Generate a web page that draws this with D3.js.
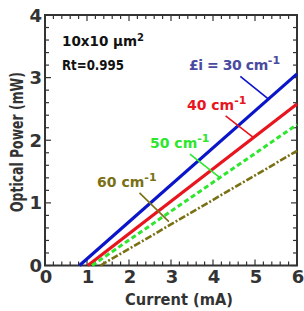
<!DOCTYPE html>
<html><head><meta charset="utf-8">
<script src="https://cdn.jsdelivr.net/npm/d3@7"></script>
<style>body{margin:0;background:#fff}svg{display:block}text{font-family:"DejaVu Sans",sans-serif;font-weight:bold}</style>
</head><body>
<svg id="c" width="304" height="311"></svg>
<script>
const xTicks = [0,1,2,3,4,5,6];
const yTicks = [0,1,2,3,4];
const seriesNames = ["30","40","50","60"];
const seriesColors = ["#0a14c8","#e8141e","#2ee62e","#7a7014"];
const labelColors = ["#4a4aa0","#e8141e","#2ee62e","#7a7014"];
// line endpoints: [current, power]
const blueLine = [[0.82,0],[6,3.06]];
const redLine = [[1.02,0],[6,2.58]];
const greenLine = [[1.12,0],[6,2.25]];
const oliveLine = [[1.32,0],[6,1.83]];
const lines = [blueLine, redLine, greenLine, oliveLine];
const dashes = [null, null, "5,3", "7,2,2,2"];
const widths = [3.2, 3.2, 3, 2.6];
const labelText = ["£i = 30 cm", "40 cm", "50 cm", "60 cm"];
// label anchor in data coords [current, power]
const labelPos = [[3.43,3.12],[3.38,2.48],[2.5,1.88],[1.24,1.25]];
// leaders in data coords
const leaders = [[[4.65,3.02],[5.3,2.67]],[[4.3,2.39],[4.95,2.05]],[[3.45,1.78],[4.15,1.41]],[[2.25,1.16],[2.95,0.7]]];

const svg = d3.select("#c");
const x = d3.scaleLinear().domain([0,6]).range([45,297]);
const y = d3.scaleLinear().domain([0,4]).range([265.5,15]);
const ax = "#333";

const g = svg.append("g");
const xMinor = d3.range(0,6.001,0.2);
const yMinor = d3.range(0,4.001,0.2);
function tk(x1,y1,x2,y2,w){g.append("line").attr("x1",x1).attr("y1",y1).attr("x2",x2).attr("y2",y2).attr("stroke",ax).attr("stroke-width",w||1.2);}
xMinor.forEach(v=>{const isMaj=Math.abs(v-Math.round(v))<1e-6;const L=isMaj?6:4;tk(x(v),y(0),x(v),y(0)-L);tk(x(v),y(4),x(v),y(4)+L);});
yMinor.forEach(v=>{const isMaj=Math.abs(v-Math.round(v))<1e-6;const L=isMaj?6:4;tk(x(0),y(v),x(0)+L,y(v));tk(x(6),y(v),x(6)-L,y(v));});

svg.append("rect").attr("x",x(0)).attr("y",y(4)).attr("width",x(6)-x(0)).attr("height",y(0)-y(4)).attr("fill","none").attr("stroke",ax).attr("stroke-width",2);

svg.selectAll(".xl").data(xTicks).enter().append("text").attr("x",d=>x(d)+1).attr("y",283).attr("text-anchor","middle").attr("font-size",18).attr("fill",ax).text(d=>d);
svg.selectAll(".yl").data(yTicks).enter().append("text").attr("x",42).attr("y",d=>y(d)+6.5).attr("text-anchor","end").attr("font-size",18).attr("fill",ax).text(d=>d);

svg.append("text").attr("x",125).attr("y",305).attr("font-size",16.5).attr("fill",ax)
  .attr("textLength",108).attr("lengthAdjust","spacingAndGlyphs").text("Current (mA)");
svg.append("text").attr("transform","translate(23,212) rotate(-90)").attr("font-size",17).attr("fill",ax)
  .attr("textLength",140).attr("lengthAdjust","spacingAndGlyphs").text("Optical Power (mW)");

const lg = d3.line().x(d=>x(d[0])).y(d=>y(d[1]));
lines.forEach((l,i)=>{
  const p = svg.append("path").attr("d",lg(l)).attr("fill","none").attr("stroke",seriesColors[i]).attr("stroke-width",widths[i]);
  if(dashes[i]) p.attr("stroke-dasharray",dashes[i]);
});

leaders.forEach((l,i)=>{
  svg.append("path").attr("d",lg(l)).attr("stroke",seriesColors[i]).attr("stroke-width",1.6).attr("fill","none");
});

const labelLS = [-0.45, 0, 0, 0];
labelText.forEach((t,i)=>{
  const x0 = x(labelPos[i][0]), y0 = y(labelPos[i][1]);
  const tx = svg.append("text").attr("x",x0).attr("y",y0).attr("font-size",14).attr("fill",labelColors[i])
    .attr("letter-spacing",labelLS[i]);
  tx.append("tspan").text(t);
  tx.append("tspan").attr("dy",-6).attr("font-size",11).attr("letter-spacing",0).text("-1");
});

const t1 = svg.append("text").attr("x",62).attr("y",46).attr("font-size",13.5).attr("fill","#111");
t1.append("tspan").text("10x10 µm");
t1.append("tspan").attr("dy",-5).attr("font-size",10).text("2");
svg.append("text").attr("x",62).attr("y",70).attr("font-size",13.5).attr("fill","#111")
  .attr("textLength",62).attr("lengthAdjust","spacingAndGlyphs").text("Rt=0.995");
</script>
</body></html>
